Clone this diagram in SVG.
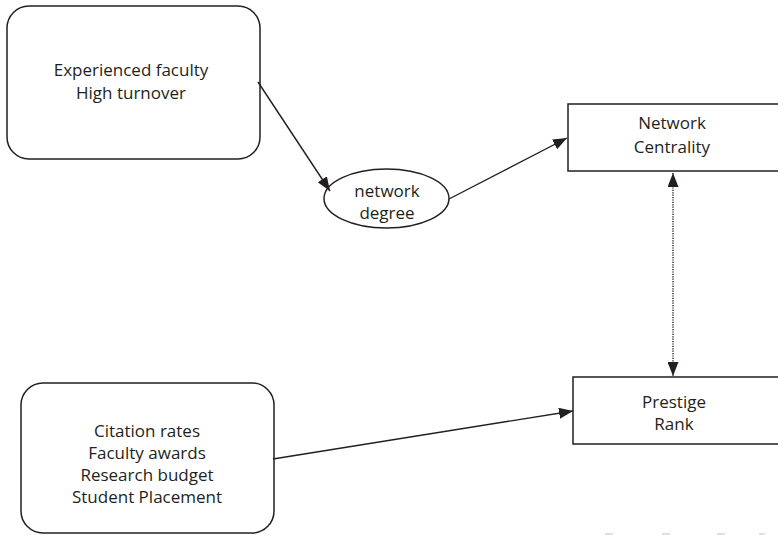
<svg xmlns="http://www.w3.org/2000/svg" width="778" height="535" viewBox="0 0 778 535">
<style>
  .box { fill: #ffffff; stroke: #231f20; stroke-width: 1.5; }
  .lbl { font-family: "Open Sans", "Noto Sans", "Liberation Sans", sans-serif; font-size: 17px; fill: #231f20; text-anchor: middle; }
  .edge { fill: none; stroke: #231f20; stroke-width: 1.4; }
  .dotted { fill: none; stroke: #231f20; stroke-width: 1.4; stroke-dasharray: 1.2 1.2; }
  .nav { fill: #dcdcf0; }
</style>
<defs>
  <marker id="arrow" viewBox="0 0 14 11" refX="14" refY="5.5" markerWidth="14" markerHeight="11" markerUnits="userSpaceOnUse" orient="auto">
    <path d="M0,0 L14,5.5 L0,11 Z" fill="#231f20"/>
  </marker>
  <marker id="arrowStart" viewBox="0 0 14 11" refX="14" refY="5.5" markerWidth="14" markerHeight="11" markerUnits="userSpaceOnUse" orient="auto-start-reverse">
    <path d="M0,0 L14,5.5 L0,11 Z" fill="#231f20"/>
  </marker>
</defs>
<rect width="778" height="535" fill="#ffffff"/>

<g id="experienced">
  <rect class="box" x="7" y="6" width="253" height="153" rx="22" ry="22"/>
  <text class="lbl" x="131" y="76">Experienced faculty</text>
  <text class="lbl" x="131" y="99">High turnover</text>
</g>

<g id="degree">
  <ellipse class="box" cx="386.5" cy="198.5" rx="62.5" ry="29.5"/>
  <text class="lbl" x="387" y="197">network</text>
  <text class="lbl" x="387" y="219">degree</text>
</g>

<g id="centrality">
  <rect class="box" x="568" y="104" width="230" height="67"/>
  <text class="lbl" x="672" y="129">Network</text>
  <text class="lbl" x="672" y="153">Centrality</text>
</g>

<g id="prestige">
  <rect class="box" x="573" y="377" width="230" height="67"/>
  <text class="lbl" x="674" y="408">Prestige</text>
  <text class="lbl" x="674" y="430">Rank</text>
</g>

<g id="citation">
  <rect class="box" x="21" y="383" width="253" height="150" rx="22" ry="22"/>
  <text class="lbl" x="147" y="437">Citation rates</text>
  <text class="lbl" x="147" y="459">Faculty awards</text>
  <text class="lbl" x="147" y="481">Research budget</text>
  <text class="lbl" x="147" y="503">Student Placement</text>
</g>

<g id="connectors">
  <line class="edge" x1="258" y1="82" x2="330" y2="191" marker-end="url(#arrow)"/>
  <line class="edge" x1="449" y1="199" x2="567" y2="138" marker-end="url(#arrow)"/>
  <line class="dotted" x1="673" y1="173" x2="673" y2="376" marker-start="url(#arrowStart)" marker-end="url(#arrow)"/>
  <line class="edge" x1="273" y1="459" x2="573" y2="411" marker-end="url(#arrow)"/>
</g>

<g id="nav">
  <rect class="nav" x="605" y="533" width="8" height="2"/>
  <rect class="nav" x="662" y="533" width="8" height="2"/>
  <rect class="nav" x="717" y="533" width="8" height="2"/>
  <rect class="nav" x="759" y="533" width="6" height="2"/>
</g>
</svg>
